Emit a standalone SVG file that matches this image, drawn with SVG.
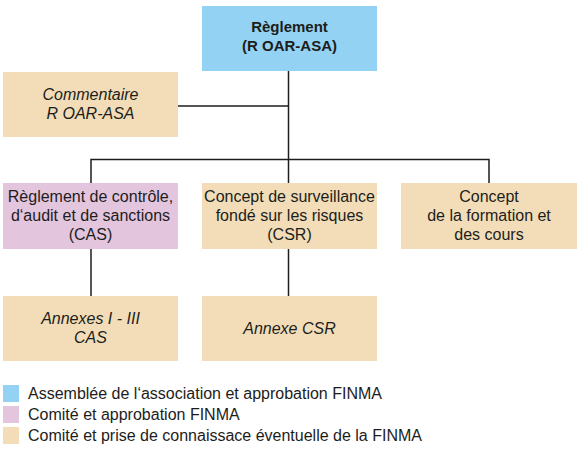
<svg xmlns="http://www.w3.org/2000/svg" width="580" height="451" viewBox="0 0 580 451">
<style>
  .blue{fill:#93d2f2}
  .tan{fill:#f2ddb8}
  .pink{fill:#e3c5de}
  text{font-family:"Liberation Sans",Arial,sans-serif;font-size:16px;fill:#1d1d1b;text-anchor:middle}
  .b{font-weight:bold;font-size:15px}
  .i{font-style:italic}
  .leg{text-anchor:start;font-size:16px}
  .ln{stroke:#1d1d1b;stroke-width:1.5;fill:none}
</style>
<rect width="580" height="451" fill="#ffffff"/>
<g id="connectors" class="ln">
  <path d="M288.5,71V183"/>
  <path d="M178,106H288.5"/>
  <path d="M91,183V159.5H489V183"/>
  <path d="M91,249V296"/>
  <path d="M288.5,249V296"/>
</g>
<g id="reglement">
  <rect class="blue" x="202" y="6" width="175" height="65"/>
  <text class="b" x="289.5" y="32">Règlement</text>
  <text class="b" x="289.5" y="51">(R OAR-ASA)</text>
</g>
<g id="commentaire">
  <rect class="tan" x="3" y="72" width="175" height="65"/>
  <text class="i" x="90.5" y="100">Commentaire</text>
  <text class="i" x="90.5" y="119">R OAR-ASA</text>
</g>
<g id="cas">
  <rect class="pink" x="3" y="183" width="175" height="66"/>
  <text x="90.5" y="202">Règlement de contrôle,</text>
  <text x="90.5" y="221">d‘audit et de sanctions</text>
  <text x="90.5" y="240">(CAS)</text>
</g>
<g id="csr">
  <rect class="tan" x="202" y="183" width="175" height="66"/>
  <text x="289.5" y="202">Concept de surveillance</text>
  <text x="289.5" y="221">fondé sur les risques</text>
  <text x="289.5" y="240">(CSR)</text>
</g>
<g id="formation">
  <rect class="tan" x="401" y="183" width="176" height="66"/>
  <text x="489" y="202">Concept</text>
  <text x="489" y="221">de la formation et</text>
  <text x="489" y="240">des cours</text>
</g>
<g id="annexes-cas">
  <rect class="tan" x="3" y="296" width="175" height="65"/>
  <text class="i" x="90.5" y="324">Annexes I - III</text>
  <text class="i" x="90.5" y="343">CAS</text>
</g>
<g id="annexe-csr">
  <rect class="tan" x="202" y="296" width="175" height="65"/>
  <text class="i" x="289.5" y="334">Annexe CSR</text>
</g>
<g id="legend">
  <rect class="blue" x="3" y="385" width="16" height="17"/>
  <text class="leg" x="28" y="399">Assemblée de l‘association et approbation FINMA</text>
  <rect class="pink" x="3" y="406" width="16" height="17"/>
  <text class="leg" x="28" y="420">Comité et approbation FINMA</text>
  <rect class="tan" x="3" y="427" width="16" height="17"/>
  <text class="leg" x="28" y="441">Comité et prise de connaissace éventuelle de la FINMA</text>
</g>
</svg>
